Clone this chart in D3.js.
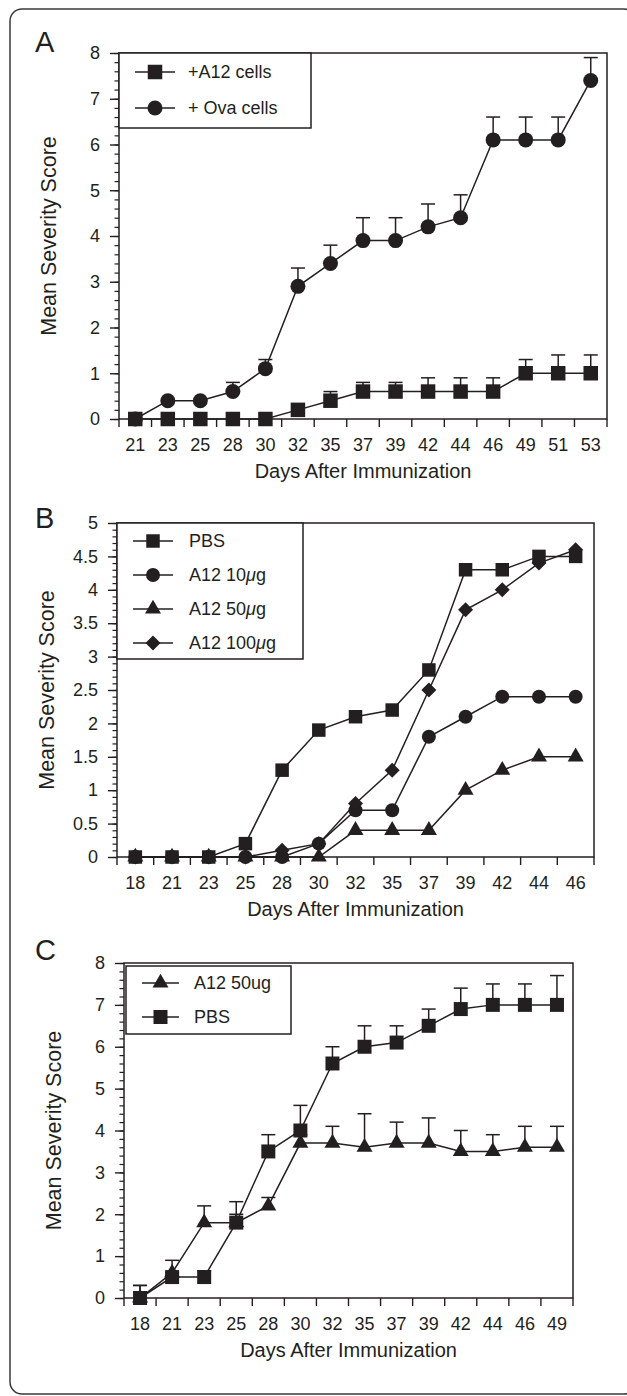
<!DOCTYPE html>
<html>
<head>
<meta charset="utf-8">
<title>Mean Severity Score</title>
<script src="https://d3js.org/d3.v7.min.js"></script>
<style>
  body { margin: 0; background: #fff; }
  svg { display: block; }
</style>
</head>
<body>
<svg></svg>
<script>
// ---- panel A ----
var daysA       = ["21","23","25","28","30","32","35","37","39","42","44","46","49","51","53"];
var a12Cells    = [0, 0, 0, 0, 0, 0.2, 0.4, 0.6, 0.6, 0.6, 0.6, 0.6, 1.0, 1.0, 1.0];
var a12CellsErr = [0, 0, 0, 0, 0, 0, 0.2, 0.2, 0.2, 0.3, 0.3, 0.3, 0.3, 0.4, 0.4];
var ovaCells    = [0, 0.4, 0.4, 0.6, 1.1, 2.9, 3.4, 3.9, 3.9, 4.2, 4.4, 6.1, 6.1, 6.1, 7.4];
var ovaCellsErr = [0, 0, 0, 0.2, 0.2, 0.4, 0.4, 0.5, 0.5, 0.5, 0.5, 0.5, 0.5, 0.5, 0.5];
var yTicksA     = [0, 1, 2, 3, 4, 5, 6, 7, 8];

// ---- panel B ----
var daysB   = ["18","21","23","25","28","30","32","35","37","39","42","44","46"];
var pbsB    = [0, 0, 0, 0.2, 1.3, 1.9, 2.1, 2.2, 2.8, 4.3, 4.3, 4.5, 4.5];
var a12_10  = [0, 0, 0, 0, 0, 0.2, 0.7, 0.7, 1.8, 2.1, 2.4, 2.4, 2.4];
var a12_50  = [0, 0, 0, 0, 0, 0, 0.4, 0.4, 0.4, 1.0, 1.3, 1.5, 1.5];
var a12_100 = [0, 0, 0, 0, 0.1, 0.2, 0.8, 1.3, 2.5, 3.7, 4.0, 4.4, 4.6];
var yTicksB = [0, 0.5, 1, 1.5, 2, 2.5, 3, 3.5, 4, 4.5, 5];

// ---- panel C ----
var daysC      = ["18","21","23","25","28","30","32","35","37","39","42","44","46","49"];
var a12_50C    = [0, 0.6, 1.8, 1.8, 2.2, 3.7, 3.7, 3.6, 3.7, 3.7, 3.5, 3.5, 3.6, 3.6];
var a12_50CErr = [0.3, 0.3, 0.4, 0.5, 0.2, 0.2, 0.4, 0.8, 0.5, 0.6, 0.5, 0.4, 0.5, 0.5];
var pbsC       = [0, 0.5, 0.5, 1.8, 3.5, 4.0, 5.6, 6.0, 6.1, 6.5, 6.9, 7.0, 7.0, 7.0];
var pbsCErr    = [0.3, 0.1, 0.15, 0.2, 0.4, 0.6, 0.4, 0.5, 0.4, 0.4, 0.5, 0.5, 0.5, 0.7];
var yTicksC    = [0, 1, 2, 3, 4, 5, 6, 7, 8];

var ink = "#231f20";
var font = "'Liberation Sans', Arial, Helvetica, sans-serif";

var svg = d3.select("svg")
  .attr("width", 627)
  .attr("height", 1396)
  .style("font-family", font);

// outer rounded frame (right side runs off the page)
svg.append("rect")
  .attr("x", 10).attr("y", 9).attr("width", 626).attr("height", 1385)
  .attr("rx", 12)
  .attr("fill", "none").attr("stroke", "#3a3a3a").attr("stroke-width", 1.5);

function symbolPath(kind, w) {
  if (kind == "square") return d3.symbol(d3.symbolSquare, w * w)();
  if (kind == "circle") return d3.symbol(d3.symbolCircle, Math.PI * w * w / 4)();
  if (kind == "triangle") return d3.symbol(d3.symbolTriangle, Math.sqrt(3) / 4 * w * w)();
  return d3.symbol(d3.symbolSquare, w * w / 2)(); // diamond, rotated later
}

function marker(sel, kind, w, cx, cy) {
  var p = sel.append("path")
    .attr("d", symbolPath(kind, w))
    .attr("fill", ink);
  if (kind == "diamond") p.attr("transform", "translate(" + cx + "," + cy + ") rotate(45)");
  else p.attr("transform", "translate(" + cx + "," + cy + ")");
  return p;
}

function labelText(sel, s) {
  // italic mu like the original
  var parts = s.split("μ");
  sel.append("tspan").text(parts[0]);
  if (parts.length > 1) {
    sel.append("tspan").attr("font-style", "italic").text("μ");
    sel.append("tspan").text(parts[1]);
  }
}

function panel(o) {
  var g = svg.append("g");
  var x = d3.scaleBand().domain(o.days).range([o.left, o.right]);
  var y = d3.scaleLinear().domain([0, o.max]).range([o.bottom, o.top]);

  // panel letter
  g.append("text").attr("x", 35).attr("y", o.letterY)
    .attr("font-size", 29).attr("fill", ink).text(o.letter);

  // minor y ticks
  var nMinor = Math.round(o.max / o.minor);
  g.append("g")
    .attr("transform", "translate(" + o.left + ",0)")
    .attr("color", ink)
    .call(d3.axisLeft(y).tickValues(d3.range(nMinor + 1).map(function(i){ return i * o.minor; }))
      .tickSize(4.5).tickFormat(""))
    .call(function(a){ a.select(".domain").remove(); })
    .selectAll("line").attr("stroke-width", 1.2);

  // major y ticks
  var ya = g.append("g")
    .attr("transform", "translate(" + o.left + ",0)")
    .attr("color", ink)
    .call(d3.axisLeft(y).tickValues(o.yTicks).tickSize(9).tickPadding(10).tickFormat(function(d){ return String(d); }))
    .call(function(a){ a.select(".domain").remove(); })
    .attr("font-family", font).attr("font-size", 18);
  ya.selectAll("line").attr("stroke-width", 1.4);

  // x labels at band centres
  g.append("g")
    .attr("transform", "translate(0," + o.bottom + ")")
    .attr("color", ink)
    .call(d3.axisBottom(x).tickSize(0).tickPadding(19))
    .call(function(a){ a.select(".domain").remove(); })
    .attr("font-family", font).attr("font-size", 18);

  // x ticks at band edges
  var edges = o.days.map(function(d){ return x(d); }).concat([x.range()[1]]);
  g.append("g").selectAll("line").data(edges).enter().append("line")
    .attr("x1", function(d){ return d; }).attr("x2", function(d){ return d; })
    .attr("y1", o.bottom).attr("y2", o.bottom + 8)
    .attr("stroke", ink).attr("stroke-width", 1.4);

  // plot frame
  g.append("rect")
    .attr("x", o.left).attr("y", o.top)
    .attr("width", o.right - o.left).attr("height", o.bottom - o.top)
    .attr("fill", "none").attr("stroke", ink).attr("stroke-width", 1.5);

  // axis titles
  g.append("text")
    .attr("x", (o.left + o.right) / 2).attr("y", o.bottom + 59)
    .attr("text-anchor", "middle").attr("font-size", 20).attr("fill", ink)
    .text("Days After Immunization");
  g.append("text")
    .attr("transform", "translate(" + (o.left - 63) + "," + ((o.top + o.bottom) / 2) + ") rotate(-90)")
    .attr("text-anchor", "middle").attr("font-size", 21.5).attr("fill", ink)
    .text("Mean Severity Score");

  var line = d3.line()
    .x(function(d, i){ return x(o.days[i]) + x.bandwidth() / 2; })
    .y(function(d){ return y(d); });

  o.series.forEach(function(s){
    g.append("path").datum(s.values)
      .attr("d", line).attr("fill", "none")
      .attr("stroke", ink).attr("stroke-width", 1.5);
  });

  o.series.forEach(function(s){
    if (!s.err) return;
    var eb = g.append("g").attr("stroke", ink).attr("stroke-width", 1.5);
    s.values.forEach(function(v, i){
      if (!s.err[i]) return;
      var cx = x(o.days[i]) + x.bandwidth() / 2;
      eb.append("line").attr("x1", cx).attr("x2", cx)
        .attr("y1", y(v)).attr("y2", y(v + s.err[i]));
      eb.append("line").attr("x1", cx - 7).attr("x2", cx + 7)
        .attr("y1", y(v + s.err[i])).attr("y2", y(v + s.err[i]));
    });
  });

  o.series.forEach(function(s){
    var mg = g.append("g");
    s.values.forEach(function(v, i){
      marker(mg, s.symbol, s.size, x(o.days[i]) + x.bandwidth() / 2, y(v));
    });
  });

  // legend
  var L = o.legend;
  var lg = g.append("g").attr("transform", "translate(" + (o.left + L.dx) + "," + (o.top + L.dy) + ")");
  lg.append("rect").attr("width", L.w).attr("height", L.h)
    .attr("fill", "#fff").attr("stroke", ink).attr("stroke-width", 1.5);
  o.series.forEach(function(s, i){
    var ry = L.row0 + i * L.gap;
    lg.append("line").attr("x1", L.lx).attr("x2", L.lx + L.lw)
      .attr("y1", ry).attr("y2", ry).attr("stroke", ink).attr("stroke-width", 1.5);
    marker(lg, s.symbol, s.size, L.lx + L.lw / 2, ry);
    var t = lg.append("text").attr("x", L.tx).attr("y", ry).attr("dy", "0.35em")
      .attr("font-size", 18).attr("fill", ink);
    labelText(t, s.name);
  });
}

panel({
  letter: "A", letterY: 52,
  days: daysA, max: 8, minor: 0.2, yTicks: yTicksA,
  left: 119, right: 607, top: 53, bottom: 419,
  series: [
    { name: "+A12 cells",  values: a12Cells, err: a12CellsErr, symbol: "square", size: 14.5 },
    { name: "+ Ova cells", values: ovaCells, err: ovaCellsErr, symbol: "circle", size: 15 }
  ],
  legend: { dx: 0, dy: 0, w: 192, h: 75, row0: 19, gap: 36, lx: 16, lw: 40, tx: 69 }
});

panel({
  letter: "B", letterY: 528,
  days: daysB, max: 5, minor: 0.1, yTicks: yTicksB,
  left: 117, right: 594, top: 523, bottom: 857,
  series: [
    { name: "PBS",       values: pbsB,    symbol: "square",   size: 13.5 },
    { name: "A12 10μg",  values: a12_10,  symbol: "circle",   size: 14 },
    { name: "A12 50μg",  values: a12_50,  symbol: "triangle", size: 16 },
    { name: "A12 100μg", values: a12_100, symbol: "diamond",  size: 15 }
  ],
  legend: { dx: 0, dy: 0, w: 186, h: 136, row0: 18, gap: 34, lx: 16, lw: 40, tx: 72 }
});

panel({
  letter: "C", letterY: 960,
  days: daysC, max: 8, minor: 0.2, yTicks: yTicksC,
  left: 124, right: 573, top: 963, bottom: 1298,
  series: [
    { name: "A12 50ug", values: a12_50C, err: a12_50CErr, symbol: "triangle", size: 16 },
    { name: "PBS",      values: pbsC,    err: pbsCErr,    symbol: "square",   size: 14 }
  ],
  legend: { dx: 2, dy: 3, w: 165, h: 68, row0: 17, gap: 34, lx: 16, lw: 37, tx: 68 }
});
</script>
</body>
</html>
